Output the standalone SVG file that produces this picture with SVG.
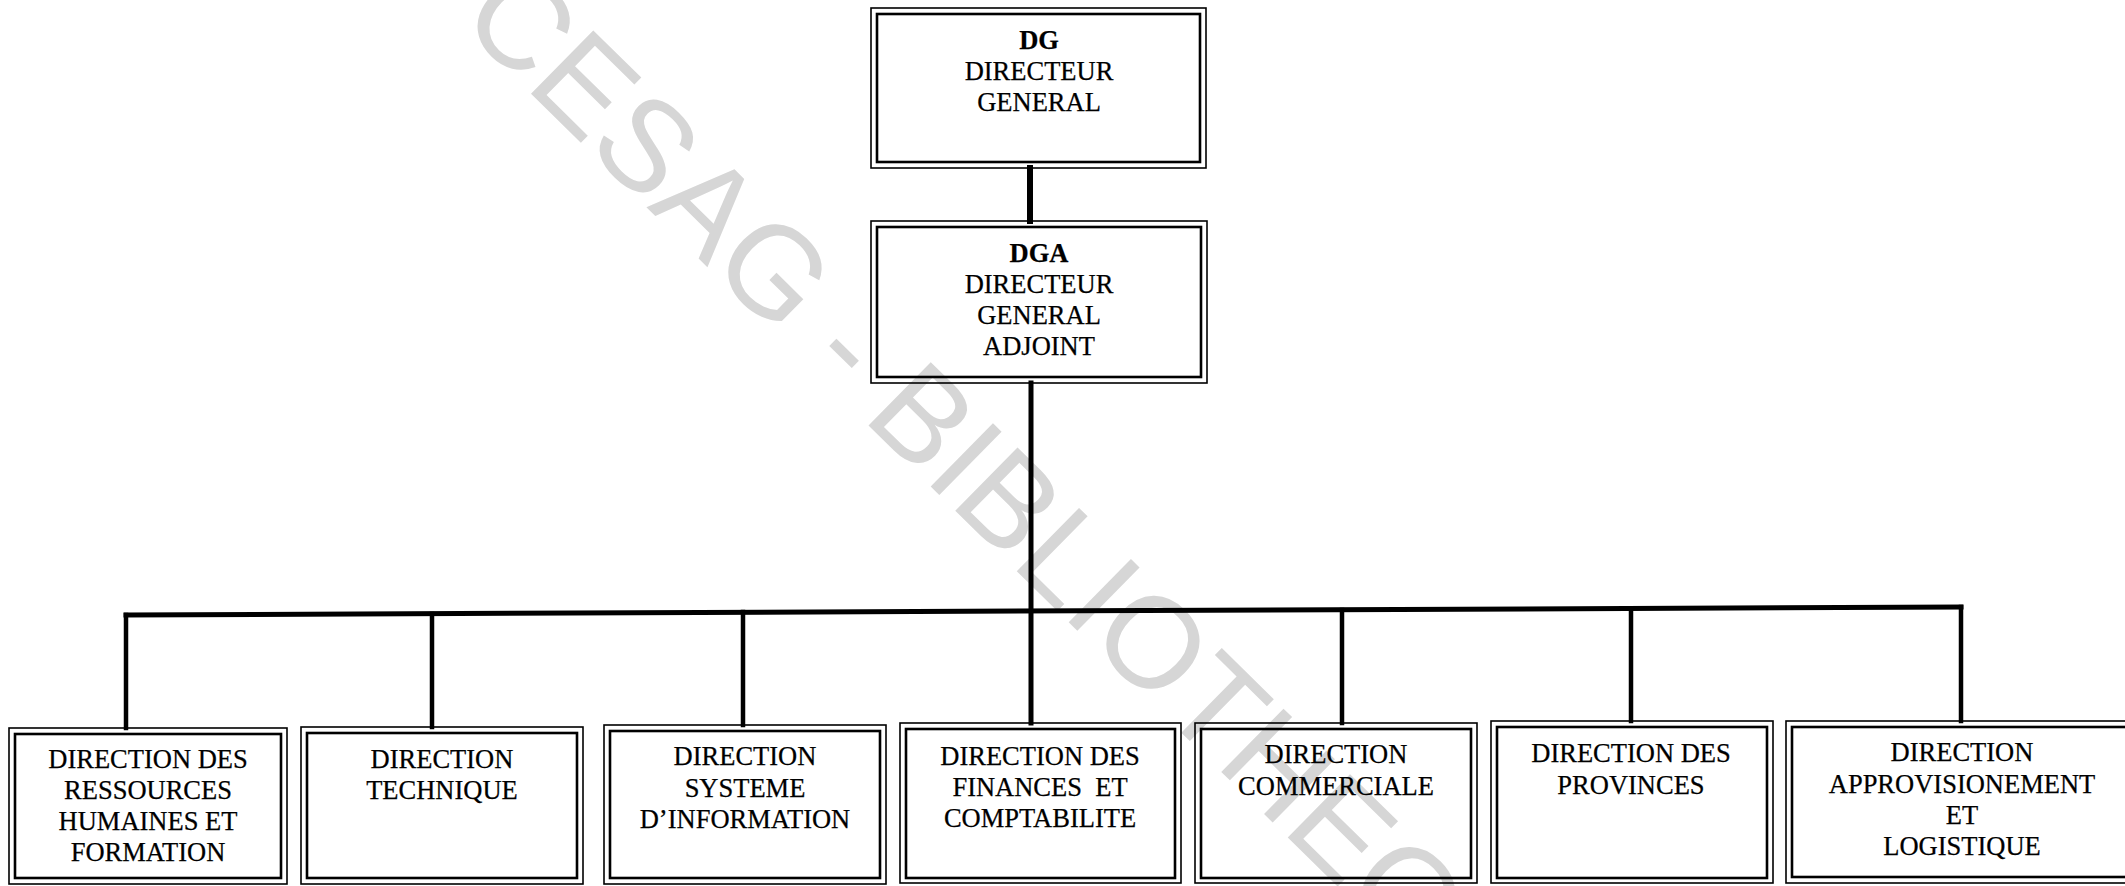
<svg xmlns="http://www.w3.org/2000/svg" width="2125" height="886" viewBox="0 0 2125 886">
<style>
.o{fill:none;stroke:#000;stroke-width:1.6}
.i{fill:none;stroke:#000;stroke-width:2.6}
.t{font-family:"Liberation Serif","Times New Roman",serif;font-size:26.5px;fill:#000;stroke:#000;stroke-width:0.25;text-anchor:middle;white-space:pre}
.b{font-weight:bold}
.c{stroke:#000;fill:none;stroke-linecap:square}
.wm{font-family:"Liberation Sans",Arial,sans-serif;font-size:129px;fill:#d6d6d6}
</style>
<rect x="0" y="0" width="2125" height="886" fill="#fff"/>
<text class="wm" transform="translate(457,21) rotate(44.5)">CESAG - BIBLIOTHEQUE</text>
<g id="connectors">
<line class="c" x1="1030" y1="168" x2="1030" y2="221" stroke-width="6"/>
<line class="c" x1="1031" y1="383" x2="1031" y2="723" stroke-width="5"/>
<line class="c" x1="126" y1="615" x2="1961" y2="607" stroke-width="5"/>
<line class="c" x1="126" y1="615" x2="126" y2="728" stroke-width="4.5"/>
<line class="c" x1="432" y1="614" x2="432" y2="727" stroke-width="4.5"/>
<line class="c" x1="743" y1="612" x2="743" y2="725" stroke-width="4.5"/>
<line class="c" x1="1342" y1="610" x2="1342" y2="723" stroke-width="4.5"/>
<line class="c" x1="1631" y1="609" x2="1631" y2="721" stroke-width="4.5"/>
<line class="c" x1="1961" y1="607" x2="1961" y2="721" stroke-width="4.5"/>
</g>
<g id="dg">
<rect class="o" x="871" y="8" width="335" height="160"/>
<rect class="i" x="877" y="14" width="323" height="148"/>
<text class="t"><tspan class="b" x="1039" y="49">DG</tspan><tspan x="1039" y="80">DIRECTEUR</tspan><tspan x="1039" y="111">GENERAL</tspan></text>
</g>
<g id="dga">
<rect class="o" x="871" y="221" width="336" height="162"/>
<rect class="i" x="877" y="227" width="324" height="150"/>
<text class="t"><tspan class="b" x="1039" y="262">DGA</tspan><tspan x="1039" y="293">DIRECTEUR</tspan><tspan x="1039" y="324">GENERAL</tspan><tspan x="1039" y="355">ADJOINT</tspan></text>
</g>
<g id="drh">
<rect class="o" x="9" y="728" width="278" height="156"/>
<rect class="i" x="15" y="734" width="266" height="144"/>
<text class="t"><tspan x="148" y="768">DIRECTION DES</tspan><tspan x="148" y="799">RESSOURCES</tspan><tspan x="148" y="830">HUMAINES ET</tspan><tspan x="148" y="861">FORMATION</tspan></text>
</g>
<g id="dt">
<rect class="o" x="301" y="727" width="282" height="157"/>
<rect class="i" x="307" y="733" width="270" height="145"/>
<text class="t"><tspan x="442" y="768">DIRECTION</tspan><tspan x="442" y="799">TECHNIQUE</tspan></text>
</g>
<g id="dsi">
<rect class="o" x="604" y="725" width="282" height="159"/>
<rect class="i" x="610" y="731" width="270" height="147"/>
<text class="t"><tspan x="745" y="765">DIRECTION</tspan><tspan x="745" y="797">SYSTEME</tspan><tspan x="745" y="828">D’INFORMATION</tspan></text>
</g>
<g id="dfc">
<rect class="o" x="900" y="723" width="281" height="160"/>
<rect class="i" x="906" y="729" width="269" height="149"/>
<text class="t"><tspan x="1040" y="765">DIRECTION DES</tspan><tspan x="1040" y="796">FINANCES  ET</tspan><tspan x="1040" y="827">COMPTABILITE</tspan></text>
</g>
<g id="dc">
<rect class="o" x="1195" y="723" width="282" height="160"/>
<rect class="i" x="1201" y="729" width="270" height="149"/>
<text class="t"><tspan x="1336" y="763">DIRECTION</tspan><tspan x="1336" y="795">COMMERCIALE</tspan></text>
</g>
<g id="dp">
<rect class="o" x="1491" y="721" width="282" height="162"/>
<rect class="i" x="1497" y="727" width="270" height="151"/>
<text class="t"><tspan x="1631" y="762">DIRECTION DES</tspan><tspan x="1631" y="794">PROVINCES</tspan></text>
</g>
<g id="dal">
<rect class="o" x="1786" y="721" width="354" height="162"/>
<rect class="i" x="1792" y="727" width="342" height="150"/>
<text class="t"><tspan x="1962" y="761">DIRECTION</tspan><tspan x="1962" y="793">APPROVISIONEMENT</tspan><tspan x="1962" y="824">ET</tspan><tspan x="1962" y="855">LOGISTIQUE</tspan></text>
</g>
</svg>
